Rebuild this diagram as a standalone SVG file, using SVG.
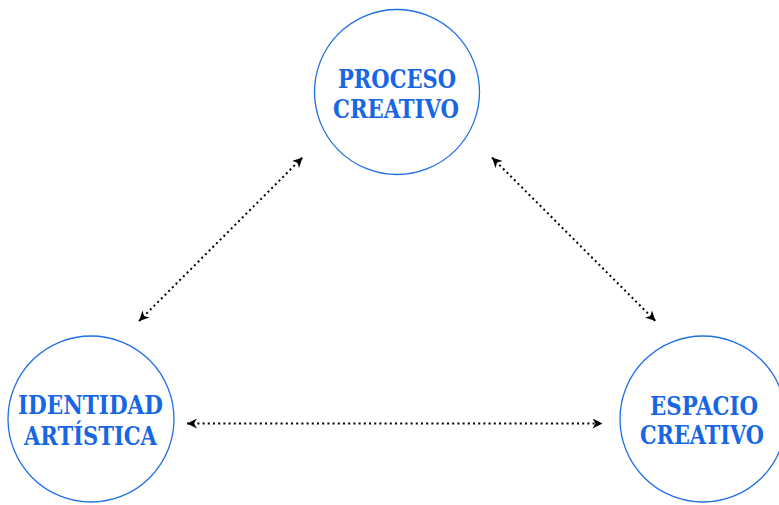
<svg xmlns="http://www.w3.org/2000/svg" width="779" height="505" viewBox="0 0 779 505">
<style>
.node circle{fill:#fff;stroke:#1f6fe5;stroke-width:1.3}
.node text{font-family:"DejaVu Serif Condensed","DejaVu Serif",serif;font-weight:bold;font-size:26px;fill:#1766e3;text-anchor:middle}
.conn line{stroke:#000;stroke-width:2;stroke-dasharray:2 3.2;fill:none}
</style>
<defs>
<marker id="ah" viewBox="0 0 10 10" refX="10" refY="5" markerWidth="11" markerHeight="10" markerUnits="userSpaceOnUse" orient="auto-start-reverse">
<path d="M0,0 L10,5 L0,10 L3,5 z" fill="#000"/>
</marker>
</defs>
<rect width="779" height="505" fill="#fff"/>
<g id="proceso" class="node">
<circle cx="397" cy="92" r="82.5"/>
<text x="397" y="88" textLength="118" lengthAdjust="spacingAndGlyphs">PROCESO</text>
<text x="396" y="118" textLength="126" lengthAdjust="spacingAndGlyphs">CREATIVO</text>
</g>
<g id="identidad" class="node">
<circle cx="91" cy="419" r="83"/>
<text x="90.5" y="414" textLength="145" lengthAdjust="spacingAndGlyphs">IDENTIDAD</text>
<text x="90.5" y="445" textLength="133" lengthAdjust="spacingAndGlyphs">ARTÍSTICA</text>
</g>
<g id="espacio" class="node">
<circle cx="703" cy="419" r="83"/>
<text x="704" y="415" textLength="108" lengthAdjust="spacingAndGlyphs">ESPACIO</text>
<text x="702" y="444" textLength="124" lengthAdjust="spacingAndGlyphs">CREATIVO</text>
</g>
<g id="connectors" class="conn">
<line x1="139" y1="321" x2="302.5" y2="157.5" marker-start="url(#ah)" marker-end="url(#ah)"/>
<line x1="492" y1="157.5" x2="655.5" y2="321" marker-start="url(#ah)" marker-end="url(#ah)"/>
<line x1="187" y1="423.5" x2="602.5" y2="423.5" marker-start="url(#ah)" marker-end="url(#ah)"/>
</g>
</svg>
